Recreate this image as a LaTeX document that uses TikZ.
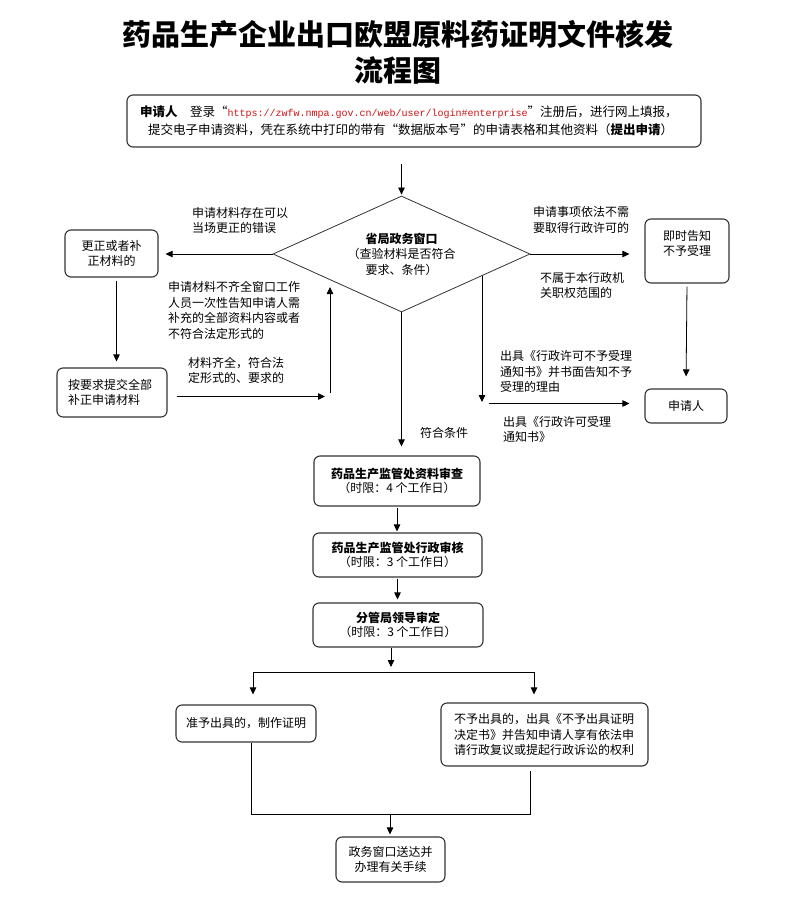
\documentclass[tikz,border=0pt]{standalone}
\usepackage{fontspec}
\setmainfont{Noto Sans CJK SC}
\newfontfamily\urlfont{Liberation Mono}
\usetikzlibrary{arrows.meta, positioning, shapes.geometric}
\definecolor{urlred}{RGB}{200,20,20}
\newcommand{\cnsize}{\fontsize{12}{15.5}\selectfont}
\newcommand{\cnsmall}{\fontsize{12}{14.5}\selectfont}

\begin{document}
\begin{tikzpicture}[x=1pt, y=-1pt,
        box/.style={draw=black!80, line width=1.1pt, rounded corners=6pt,
                    align=center, inner sep=0pt, font=\cnsize},
        arr/.style={-{Triangle[length=7pt,width=6.5pt]}, line width=0.8pt},
        link/.style={line width=0.8pt},
        lbl/.style={anchor=west, align=left, inner sep=0pt, font=\cnsize}
    ]
    \path[use as bounding box, fill=white] (0,0) rectangle (793,904);

    % --- Title ---
    \node[font=\fontsize{29}{36}\selectfont\bfseries, align=center] (title) at (398,52.5)
        {药品生产企业出口欧盟原料药证明文件核发\\流程图};

    % --- Application ---
    \node[box, minimum width=574, minimum height=52, text width=548, align=left,
          font=\fontsize{12.5}{18}\selectfont] (apply) at (414,121)
        {\textbf{申请人}\quad 登录“{\urlfont\fontsize{10}{12}\selectfont\color{urlred}https://zwfw.nmpa.gov.cn/web/user/login\#enterprise}”注册后，进行网上填报，\\
         \hspace{8pt}提交电子申请资料，凭在系统中打印的带有“数据版本号”的申请表格和其他资料（\textbf{提出申请}）};

    % --- Window check ---
    \node[draw=black!80, line width=0.8pt, diamond, aspect=2.2, minimum width=257,
          minimum height=116, inner sep=0pt, align=center, font=\cnsize] (window) at (401.5,254)
        {\textbf{省局政务窗口}\\（查验材料是否符合\\要求、条件）};
    \draw[arr, shorten <=16pt, shorten >=1pt] (apply.south -| window.north) -- (window.north);

    % --- Left branch: correction ---
    \node[box, minimum width=93, minimum height=47] (fix) at (111.5,253.5) {更正或者补\\正材料的};
    \node[box, minimum width=110, minimum height=49, text width=88, align=left] (resubmit) at (112,392.5)
        {按要求提交全部\\补正申请材料};
    \draw[arr, shorten >=7pt] (window.west) -- (window.west -| fix.east);
    \draw[arr, shorten <=3pt, shorten >=6pt] ([xshift=5pt]fix.south) -- ([xshift=5pt]fix.south |- resubmit.north);
    \coordinate (okin) at (325,396.5);
    \coordinate (backbot) at (330,393);
    \coordinate (backtop) at (330,287);
    \draw[arr, shorten <=9pt] (resubmit.east |- okin) -- (okin);
    \draw[arr] (backbot) -- (backtop);
    \node[lbl] (lbfix) at (192,220.5) {申请材料存在可以\\当场更正的错误};
    \node[lbl] (lbmiss) at (168,310.5) {申请材料不齐全窗口工作\\人员一次性告知申请人需\\补充的全部资料内容或者\\不符合法定形式的};
    \node[lbl] (lbok) at (188,370.5) {材料齐全，符合法\\定形式的、要求的};

    % --- Right branch: refusal ---
    \node[box, minimum width=84, minimum height=64] (notify) at (687,251) {即时告知\\不予受理\\[0.5pt]\mbox{}};
    \node[box, minimum width=82, minimum height=34] (applicant) at (686,406) {申请人};
    \draw[arr, shorten >=15pt] (window.east) -- (window.east -| notify.west);
    \draw[arr, shorten <=3pt, shorten >=12pt] (notify.south) -- (applicant.north);
    \coordinate (rejtop) at (482,276);
    \coordinate (rejbot) at (482,402);
    \coordinate (rejstart) at (489,403.5);
    \draw[arr] (rejtop) -- (rejbot);
    \draw[arr, shorten >=15pt] (rejstart) -- (rejstart -| applicant.west);
    \node[lbl] (lbnoneed) at (533,220) {申请事项依法不需\\要取得行政许可的};
    \node[lbl] (lbscope) at (540,285.5) {不属于本行政机\\关职权范围的};
    \node[lbl] (lbreject) at (500,371.5) {出具《行政许可不予受理\\通知书》并书面告知不予\\受理的理由};
    \node[lbl] (lbaccept) at (503,429.5) {出具《行政许可受理\\通知书》};

    % --- Review chain ---
    \node[box, minimum width=166, minimum height=50, font=\cnsmall] (review) at (397,481)
        {\textbf{药品生产监管处资料审查}\\（时限：4 个工作日）};
    \node[box, minimum width=169, minimum height=44, font=\cnsmall] (audit) at (397.5,555)
        {\textbf{药品生产监管处行政审核}\\（时限：3 个工作日）};
    \node[box, minimum width=170, minimum height=44, font=\cnsmall] (decide) at (398,625)
        {\textbf{分管局领导审定}\\（时限：3 个工作日）};
    \draw[arr, shorten >=9pt] (window.south) -- (window.south |- review.north);
    \node[lbl] (lbmeet) at (420,433) {符合条件};
    \draw[arr, shorten <=1pt, shorten >=1pt] (review.south) -- (review.south |- audit.north);
    \draw[arr, shorten <=1pt, shorten >=3pt] (audit.south) -- (audit.south |- decide.north);

    % --- Outcome ---
    \node[box, minimum width=140, minimum height=37] (grant) at (246,723.5) {准予出具的，制作证明};
    \node[box, minimum width=207, minimum height=63, text width=181, align=left] (refuse) at (544.5,734.5)
        {不予出具的，出具《不予出具证明\\决定书》并告知申请人享有依法申\\请行政复议或提起行政诉讼的权利};
    \node[box, minimum width=109, minimum height=45] (deliver) at (390.5,859.5) {政务窗口送达并\\办理有关手续};
    \coordinate (split) at (391,672);
    \coordinate (splitl) at (253,672);
    \coordinate (splitr) at (534,672);
    \draw[arr, shorten >=5pt] (decide.south -| split) -- (split);
    \draw[link] (splitl) -- (splitr);
    \draw[arr, shorten >=10pt] (splitl) -- (splitl |- grant.north);
    \draw[arr, shorten >=8pt] (splitr) -- (splitr |- refuse.north);
    \coordinate (joinl) at (251,814);
    \coordinate (joinr) at (530,814);
    \coordinate (join) at (390,814);
    \draw[link, shorten >=4pt] (joinl |- grant.south) -- (joinl) -- (joinr) -- (joinr |- refuse.south);
    \draw[arr, shorten >=2pt] (join) -- (join |- deliver.north);
\end{tikzpicture}
\end{document}
